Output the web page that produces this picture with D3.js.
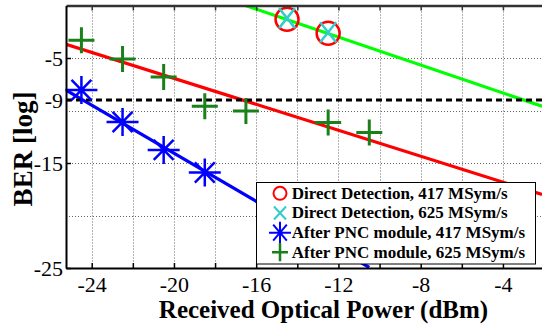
<!DOCTYPE html>
<html>
<head>
<meta charset="utf-8">
<script src="https://cdn.jsdelivr.net/npm/d3@7"></script>
<style>
  body { margin: 0; background: #fff; }
  svg { display: block; }
</style>
</head>
<body>
<svg id="chart" width="542" height="328"></svg>
<script>
// measured points
const powerDD417 = [-14.5, -12.5];
const berDD417 = [-1.3, -2.65];
const powerDD625 = [-14.5, -12.5];
const berDD625 = [-1.2, -2.55];
const powerPNC417 = [-24.5, -22.5, -20.5, -18.5];
const berPNC417 = [-8.05, -11.1, -13.75, -15.9];
const powerPNC625 = [-24.5, -22.5, -20.5, -18.5, -16.5, -12.5, -10.5];
const berPNC625 = [-3.3, -5.1, -6.8, -9.6, -10.05, -11.15, -12.1];

// linear fits (end points)
const fitRedX = [-25.25, -2.1];
const fitRedY = [-3.7, -18.0];
const fitGreenX = [-16.52, -2.1];
const fitGreenY = [0, -9.6];
const fitBlueX = [-25.25, -10.5];
const fitBlueY = [-8.05, -24.95];
const berLimit = -9;

const xGrid = [-24, -22, -20, -18, -16, -14, -12, -10, -8, -6, -4];
const xLabels = [-24, -20, -16, -12, -8, -4];
const yGrid = [-20, -15, -10, -5];
const yLabels = [-25, -15, -9, -5];
const legendLabels = [
  "Direct Detection, 417 MSym/s",
  "Direct Detection, 625 MSym/s",
  "After PNC module, 417 MSym/s",
  "After PNC module, 625 MSym/s"
];

const FONT = '"Liberation Serif", serif';
const svg = d3.select("#chart");
const pLeft = 66, pRight = 542, pTop = 5.5, pBottom = 268;

const x = d3.scaleLinear().domain([-25.25, -2.1]).range([pLeft, pRight]);
const y = d3.scaleLinear().domain([-25, 0]).range([pBottom, pTop]);

svg.append("defs").append("clipPath").attr("id", "plot")
  .append("rect").attr("x", pLeft).attr("y", pTop).attr("width", pRight - pLeft).attr("height", pBottom - pTop);

// grid
const grid = svg.append("g").attr("stroke", "#666").attr("stroke-width", 1).attr("stroke-dasharray", "1,2");
grid.selectAll(".gx").data(xGrid).enter().append("line")
  .attr("x1", d => Math.round(x(d)) + 0.5).attr("x2", d => Math.round(x(d)) + 0.5)
  .attr("y1", pTop).attr("y2", pBottom);
grid.selectAll(".gy").data(yGrid).enter().append("line")
  .attr("y1", d => Math.round(y(d)) + 0.5).attr("y2", d => Math.round(y(d)) + 0.5)
  .attr("x1", pLeft).attr("x2", pRight);

const plot = svg.append("g").attr("clip-path", "url(#plot)");
const line = d3.line().x(d => x(d[0])).y(d => y(d[1]));

function drawFit(xs, ys, color) {
  plot.append("path").datum(xs.map((v, i) => [v, ys[i]]))
    .attr("d", line).attr("fill", "none").attr("stroke", color).attr("stroke-width", 3.2);
}
drawFit(fitRedX, fitRedY, "#ff0000");
drawFit(fitGreenX, fitGreenY, "#00ff00");
drawFit(fitBlueX, fitBlueY, "#0000ff");

plot.append("line")
  .attr("x1", x(x.domain()[0])).attr("x2", x(x.domain()[1]))
  .attr("y1", y(berLimit)).attr("y2", y(berLimit))
  .attr("stroke", "#000").attr("stroke-width", 3).attr("stroke-dasharray", "6,4");

// marker shapes
function plusPath(hx, hy) { return `M${-hx},0H${hx}M0,${-hy}V${hy}`; }
function crossPath(hx, hy) { return `M${-hx},${-hy}L${hx},${hy}M${-hx},${hy}L${hx},${-hy}`; }
function starPath(hx, hy) { return plusPath(hx, hy) + crossPath(hx * 0.62, hy * 0.72); }

function drawMarkers(xs, ys, kind) {
  const pts = xs.map((v, i) => [v, ys[i]]);
  const g = svg.append("g");
  const sel = g.selectAll("g").data(pts).enter().append("g")
    .attr("transform", d => `translate(${x(d[0])},${y(d[1])})`);
  if (kind === "circle") {
    sel.append("circle").attr("r", 11.5).attr("fill", "none").attr("stroke", "#ff0000").attr("stroke-width", 2.5);
  } else if (kind === "cross") {
    sel.append("path").attr("d", crossPath(8, 10)).attr("stroke", "#33cccc").attr("stroke-width", 2.5).attr("fill", "none");
  } else if (kind === "star") {
    sel.append("path").attr("d", starPath(16, 14)).attr("stroke", "#0000ff").attr("stroke-width", 2.5).attr("fill", "none");
  } else {
    sel.append("path").attr("d", plusPath(13, 13)).attr("stroke", "#1a801a").attr("stroke-width", 3).attr("fill", "none");
  }
}
drawMarkers(powerPNC417, berPNC417, "star");
drawMarkers(powerPNC625, berPNC625, "plus");
drawMarkers(powerDD417, berDD417, "circle");
drawMarkers(powerDD625, berDD625, "cross");

// axes
const xAxis = svg.append("g").attr("transform", `translate(0,${pBottom})`)
  .call(d3.axisBottom(x).tickValues(xGrid).tickSizeInner(-5).tickSizeOuter(0)
    .tickFormat(d => xLabels.includes(d) ? String(d) : ""));
xAxis.attr("font-family", null).attr("font-size", null);
xAxis.select(".domain").attr("stroke-width", 2);
xAxis.selectAll(".tick line").attr("stroke-width", 1.5);
xAxis.selectAll("text").attr("y", 24).attr("dy", 0).attr("fill", "#000")
  .style("font-family", FONT).style("font-size", "22px");

const topAxis = svg.append("g").attr("transform", `translate(0,${pTop})`)
  .call(d3.axisTop(x).tickValues(xGrid).tickSizeInner(-5).tickSizeOuter(0).tickFormat(""));
topAxis.select(".domain").attr("stroke", "#333").attr("stroke-width", 2.5);
topAxis.selectAll(".tick line").attr("stroke", "#333").attr("stroke-width", 1.5);

const yAxis = svg.append("g").attr("transform", `translate(${pLeft},0)`)
  .call(d3.axisLeft(y).tickValues(yLabels).tickSizeInner(-5).tickSizeOuter(0)
    .tickFormat(d => String(d)));
yAxis.attr("font-family", null).attr("font-size", null);
yAxis.select(".domain").attr("stroke-width", 2);
yAxis.selectAll(".tick line").attr("stroke-width", 1.5);
yAxis.selectAll("text").attr("x", -3).attr("dy", "0.35em").attr("fill", "#000")
  .style("font-family", FONT).style("font-size", "22px");

// axis titles
svg.append("text").attr("x", 323.5).attr("y", 318.3)
  .attr("text-anchor", "middle")
  .style("font-family", FONT).style("font-size", "25px").style("font-weight", "bold")
  .text("Received Optical Power (dBm)");

svg.append("text")
  .attr("transform", "translate(31.5,149) rotate(-90)")
  .attr("text-anchor", "middle")
  .style("font-family", FONT).style("font-size", "27px").style("font-weight", "bold")
  .text("BER [log]");

// legend
const legend = svg.append("g");
legend.append("rect").attr("x", 256.5).attr("y", 182.5).attr("width", 279).attr("height", 81.5)
  .attr("fill", "#fff").attr("stroke", "#000").attr("stroke-width", 1);
const legendKinds = ["circle", "cross", "star", "plus"];
const rowY = d3.scalePoint().domain(legendLabels).range([193.3, 252.3]);
legendLabels.forEach((lab, i) => {
  const cy = rowY(lab);
  const m = legend.append("g").attr("transform", `translate(280,${cy})`);
  const kind = legendKinds[i];
  if (kind === "circle") m.append("circle").attr("r", 6.5).attr("fill", "none").attr("stroke", "#ff0000").attr("stroke-width", 2);
  if (kind === "cross") m.append("path").attr("d", crossPath(6, 6.5)).attr("stroke", "#33cccc").attr("stroke-width", 2).attr("fill", "none");
  if (kind === "star") m.append("path").attr("d", starPath(11, 11)).attr("stroke", "#0000ff").attr("stroke-width", 2).attr("fill", "none");
  if (kind === "plus") m.append("path").attr("d", plusPath(8, 9)).attr("stroke", "#1a801a").attr("stroke-width", 2.5).attr("fill", "none");
  legend.append("text").attr("x", 291.7).attr("y", cy + 5.5)
    .style("font-family", FONT).style("font-size", "17px").style("font-weight", "bold").text(lab);
});
</script>
</body>
</html>
